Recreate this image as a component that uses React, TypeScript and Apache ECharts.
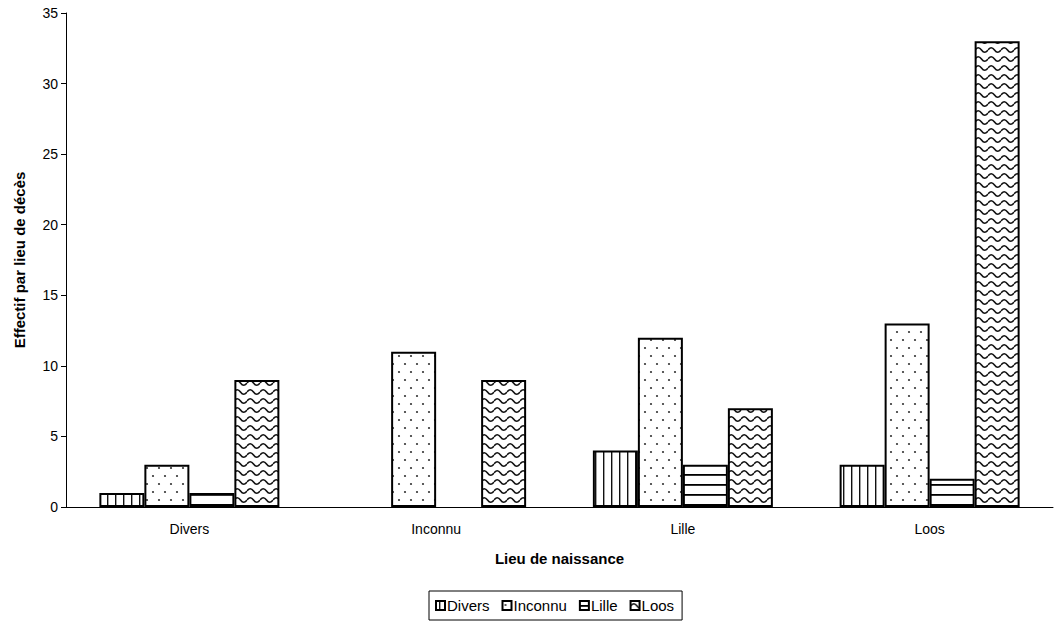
import React, { useEffect, useRef } from "react";
import * as echarts from "echarts";

const categories = ["Divers", "Inconnu", "Lille", "Loos"];
const seriesNames = ["Divers", "Inconnu", "Lille", "Loos"];
const diversValues = [1, 0, 4, 3];
const inconnuValues = [3, 11, 12, 13];
const lilleValues = [1, 0, 3, 2];
const loosValues = [9, 9, 7, 33];
const yTicks = { min: 0, max: 35, interval: 5 };

function svgUrl(w: number, h: number, body: string) {
  const svg = `<svg xmlns="http://www.w3.org/2000/svg" width="${w}" height="${h}"><rect width="${w}" height="${h}" fill="#fff"/>${body}</svg>`;
  return "data:image/svg+xml;utf8," + encodeURIComponent(svg);
}

const patterns = [
  { image: svgUrl(8, 8, '<rect x="3" y="0" width="1.4" height="8" fill="#111"/>'), repeat: "repeat", imageWidth: 8, imageHeight: 8 },
  { image: svgUrl(12, 16, '<circle cx="3" cy="4" r="1.1" fill="#333"/><circle cx="9" cy="12" r="1.1" fill="#333"/>'), repeat: "repeat", imageWidth: 12, imageHeight: 16 },
  { image: svgUrl(8, 10, '<rect x="0" y="4" width="8" height="1.8" fill="#000"/>'), repeat: "repeat", imageWidth: 8, imageHeight: 10 },
  { image: svgUrl(13, 9, '<path d="M0,5 Q3.25,0.5 6.5,5 T13,5" fill="none" stroke="#111" stroke-width="1.6"/>'), repeat: "repeat", imageWidth: 13, imageHeight: 9 },
];

const values = [diversValues, inconnuValues, lilleValues, loosValues];

export default function App() {
  const ref = useRef<HTMLDivElement>(null);
  useEffect(() => {
    if (!ref.current) return;
    const chart = echarts.init(ref.current, null, { renderer: "svg" });
    const font = "'Liberation Sans', Arial, sans-serif";
    chart.setOption({
      animation: false,
      backgroundColor: "#fff",
      textStyle: { fontFamily: font, color: "#000" },
      grid: { left: 66, right: 7, top: 13, bottom: 116, containLabel: false },
      legend: {
        left: 429,
        top: 591,
        data: seriesNames,
        icon: "rect",
        itemWidth: 9,
        itemHeight: 9,
        itemGap: 12,
        padding: [7, 8, 7, 6],
        borderColor: "#000",
        borderWidth: 1,
        textStyle: { fontFamily: font, fontSize: 15, color: "#000", padding: [0, 0, 0, -3] },
      },
      xAxis: {
        type: "category",
        data: categories,
        name: "Lieu de naissance",
        nameLocation: "middle",
        nameGap: 44,
        nameTextStyle: { fontFamily: font, fontSize: 15, fontWeight: "bold", color: "#000" },
        axisLine: { lineStyle: { color: "#000", width: 1 } },
        axisTick: { length: 5, lineStyle: { color: "#000" } },
        axisLabel: { fontFamily: font, fontSize: 14, color: "#000", margin: 15 },
      },
      yAxis: {
        type: "value",
        min: yTicks.min,
        max: yTicks.max,
        interval: yTicks.interval,
        name: "Effectif par lieu de décès",
        nameLocation: "middle",
        nameGap: 39,
        nameTextStyle: { fontFamily: font, fontSize: 15, fontWeight: "bold", color: "#000" },
        axisLine: { show: true, lineStyle: { color: "#000", width: 1 } },
        axisTick: { show: true, length: 5, lineStyle: { color: "#000" } },
        axisLabel: { fontFamily: font, fontSize: 14, color: "#000", margin: 8 },
        splitLine: { show: false },
      },
      series: seriesNames.map((name, i) => ({
        name,
        type: "bar",
        data: values[i].map((v) => (v === 0 ? { value: v, itemStyle: { borderWidth: 0 } } : v)),
        barWidth: 45,
        barGap: "0%",
        itemStyle: { color: patterns[i], borderColor: "#000", borderWidth: 2 },
      })),
    });
    return () => chart.dispose();
  }, []);
  return <div ref={ref} style={{ position: "absolute", left: 0, top: 0, width: 1060, height: 623 }} />;
}
